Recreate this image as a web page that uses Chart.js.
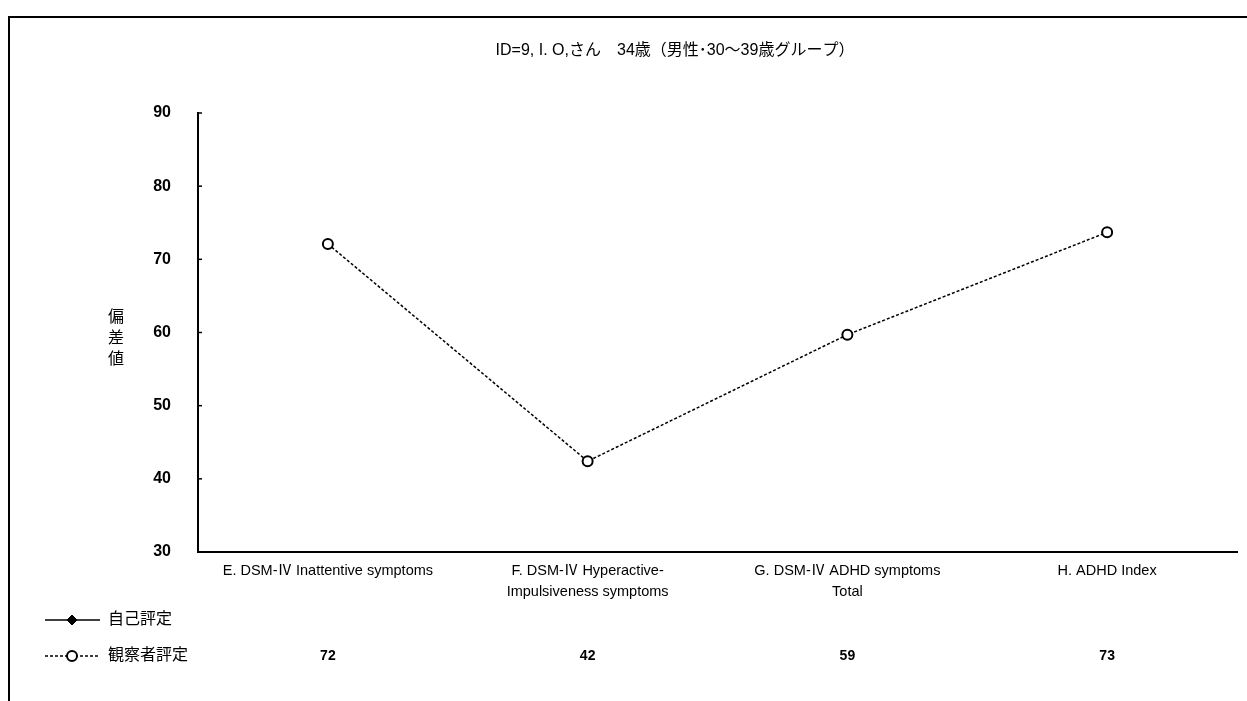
<!DOCTYPE html>
<html lang="ja">
<head>
<meta charset="utf-8">
<title>ID=9 ADHD</title>
<script src="https://cdn.jsdelivr.net/npm/chart.js@4.4.1/dist/chart.umd.min.js"></script>
<style>
  html, body { margin: 0; padding: 0; background: #fff; }
  #wrap { position: relative; width: 1247px; height: 701px; }
</style>
</head>
<body>
<div id="wrap"><canvas id="scoreChart"></canvas></div>
<script>
// ── Data ──────────────────────────────────────────────────────────────
const titleText  = 'ID=9, I. O,さん　34歳（男性･30～39歳グループ）';
const categories = [
  'E. DSM-Ⅳ Inattentive symptoms',
  ['F. DSM-Ⅳ Hyperactive-', 'Impulsiveness symptoms'],
  ['G. DSM-Ⅳ ADHD symptoms', 'Total'],
  'H. ADHD Index',
];
const selfScores     = [null, null, null, null];   // 自己評定 (no values)
const observerScores = [72.1, 42.4, 59.7, 73.7];   // 観察者評定
const tableValues    = ['72', '42', '59', '73'];
const yTicks         = [30, 40, 50, 60, 70, 80, 90];
const yTitle         = ['偏', '差', '値'];

const FONT = "'Liberation Sans', 'Noto Sans CJK JP', sans-serif";

// ── Extra drawing: frame, title, y title, inner ticks, legend table ──
const sheetPlugin = {
  id: 'sheet',
  beforeDraw(chart) {
    const ctx = chart.ctx;
    ctx.save();
    ctx.strokeStyle = '#000';
    ctx.lineWidth = 2;
    ctx.beginPath();
    ctx.moveTo(9, 701);
    ctx.lineTo(9, 17);
    ctx.lineTo(1247, 17);
    ctx.stroke();
    ctx.restore();
  },
  afterDraw(chart) {
    const ctx = chart.ctx;
    const x = chart.scales.x;
    const y = chart.scales.y;
    ctx.save();
    ctx.fillStyle = '#000';
    ctx.strokeStyle = '#000';

    // title
    ctx.font = '16px ' + FONT;
    ctx.textAlign = 'center';
    ctx.textBaseline = 'middle';
    ctx.fillText(titleText, 675, 51);

    // vertical y title
    ctx.font = '16px ' + FONT;
    yTitle.forEach((ch, i) => ctx.fillText(ch, 116, 318 + i * 21));

    // small inner tick marks on y axis
    ctx.lineWidth = 1.5;
    yTicks.forEach(v => {
      const py = y.getPixelForValue(v);
      ctx.beginPath();
      ctx.moveTo(y.right, py);
      ctx.lineTo(y.right + 4, py);
      ctx.stroke();
    });

    // legend rows
    const rows = [
      { ds: chart.data.datasets[0], cy: 620 },
      { ds: chart.data.datasets[1], cy: 656 },
    ];
    rows.forEach(r => {
      ctx.strokeStyle = '#000';
      ctx.lineWidth = r.ds.borderWidth;
      ctx.setLineDash(r.ds.borderDash || []);
      ctx.beginPath();
      ctx.moveTo(45, r.cy);
      ctx.lineTo(100, r.cy);
      ctx.stroke();
      ctx.setLineDash([]);
      ctx.fillStyle = r.ds.pointBackgroundColor;
      ctx.strokeStyle = r.ds.pointBorderColor;
      ctx.lineWidth = r.ds.pointBorderWidth;
      Chart.helpers.drawPoint(ctx, {
        pointStyle: r.ds.pointStyle,
        radius: r.ds.pointRadius,
        rotation: 0,
        borderWidth: r.ds.pointBorderWidth,
      }, 72, r.cy);
      ctx.fillStyle = '#000';
      ctx.font = '16px ' + FONT;
      ctx.textAlign = 'left';
      ctx.fillText(r.ds.label, 108, r.cy);
    });

    // value row under each category
    ctx.font = 'bold 14px ' + FONT;
    ctx.textAlign = 'center';
    tableValues.forEach((t, i) => ctx.fillText(t, x.getPixelForValue(i), 656));

    ctx.restore();
  },
};

// ── Chart ─────────────────────────────────────────────────────────────
document.addEventListener('DOMContentLoaded', function () {
  const canvas = document.getElementById('scoreChart');

  new Chart(canvas, {
    type: 'line',
    data: {
      labels: categories,
      datasets: [
        {
          label: '自己評定',
          data: selfScores,
          borderColor: '#000',
          borderWidth: 1.5,
          pointStyle: 'rectRot',
          pointRadius: 5,
          pointBackgroundColor: '#000',
          pointBorderColor: '#000',
          pointBorderWidth: 1,
        },
        {
          label: '観察者評定',
          data: observerScores,
          borderColor: '#000',
          borderWidth: 1.5,
          borderDash: [3, 2],
          pointStyle: 'circle',
          pointRadius: 5,
          pointBackgroundColor: '#fff',
          pointBorderColor: '#000',
          pointBorderWidth: 2,
          tension: 0,
        },
      ],
    },
    options: {
      responsive: true,
      maintainAspectRatio: false,
      animation: false,
      layout: { padding: { top: 113, right: 10, left: 0, bottom: 0 } },
      plugins: {
        legend: { display: false },
        title: { display: false },
        tooltip: { enabled: false },
      },
      scales: {
        x: {
          offset: true,
          grid: { display: false },
          border: { display: true, color: '#000', width: 2 },
          ticks: {
            color: '#000',
            font: { family: FONT, size: 14.5, lineHeight: 1.45 },
            padding: 0,
            autoSkip: false,
            maxRotation: 0,
            minRotation: 0,
          },
          afterFit(scale) { scale.height = 149; },
        },
        y: {
          min: 30,
          max: 90,
          grid: { display: false },
          border: { display: true, color: '#000', width: 2 },
          afterBuildTicks(scale) { scale.ticks = yTicks.map(v => ({ value: v })); },
          ticks: {
            color: '#000',
            font: { family: FONT, size: 16, weight: 'bold' },
            padding: 19,
          },
          afterFit(scale) { scale.width = 198; },
        },
      },
    },
    plugins: [sheetPlugin],
  });
});
</script>
</body>
</html>
